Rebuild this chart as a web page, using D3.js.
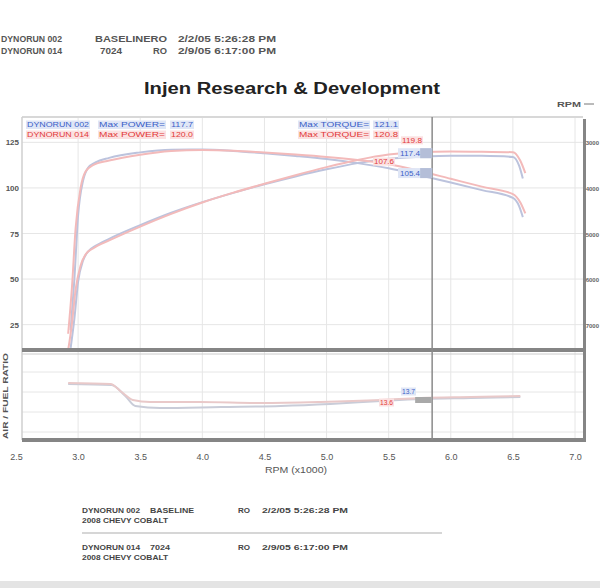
<!DOCTYPE html>
<html><head><meta charset="utf-8">
<script src="https://cdn.jsdelivr.net/npm/d3@7"></script>
<style>
body{margin:0;background:#fff;overflow:hidden}
svg{display:block;font-family:"Liberation Sans",Arial,sans-serif}
</style>
</head><body>
<svg id="c" width="600" height="588"></svg>
<script>
// ---------- data ----------
const rpmTicks = [2.5, 3.0, 3.5, 4.0, 4.5, 5.0, 5.5, 6.0, 6.5, 7.0];
const upperTicks = [25, 50, 75, 100, 125];
const rightTicks = ["7000", "6000", "5000", "4000", "3000"];
const lowerGrid = [12, 13, 14, 15];

const rpm002 = [2.94, 2.97, 3.00, 3.04, 3.08, 3.14, 3.25, 3.50, 3.75, 4.00, 4.25, 4.50, 4.75, 5.00, 5.25, 5.50, 5.75, 6.00, 6.25, 6.50, 6.55, 6.58];
const torque002 = [22, 50, 85, 104, 111, 114, 116.5, 119.5, 121.0, 121.1, 120.3, 119.0, 117.5, 115.8, 113.6, 110.8, 107.0, 103.0, 98.8, 94.5, 90, 84];
const power002 = [12.3, 28.3, 48.6, 60.2, 65.1, 68.2, 72.1, 79.6, 86.4, 92.2, 97.3, 102.0, 106.3, 110.2, 113.6, 116.0, 117.1, 117.7, 117.6, 117.0, 112.2, 105.2];

const rpm014 = [2.92, 2.95, 2.98, 3.02, 3.06, 3.12, 3.25, 3.50, 3.75, 4.00, 4.25, 4.50, 4.75, 5.00, 5.25, 5.50, 5.75, 6.00, 6.25, 6.50, 6.56, 6.60];
const torque014 = [20, 45, 78, 100, 109, 112.5, 115.0, 118.2, 120.2, 120.8, 120.4, 119.4, 118.3, 117.0, 115.3, 113.0, 109.3, 105.0, 100.7, 96.6, 92, 86];
const power014 = [11.1, 25.3, 44.3, 57.5, 63.5, 66.8, 71.2, 78.8, 85.8, 92.0, 97.4, 102.3, 107.0, 111.4, 115.3, 118.3, 119.7, 120.0, 119.8, 119.6, 114.9, 108.1];

const afrRpm002 = [2.92, 3.27, 3.38, 3.46, 3.66, 4.15, 4.63, 5.03, 5.44, 5.76, 6.16, 6.56];
const afr002 = [14.4, 14.35, 13.8, 13.3, 13.2, 13.25, 13.3, 13.4, 13.55, 13.65, 13.7, 13.75];
const afrRpm014 = [2.92, 3.26, 3.35, 3.44, 3.58, 3.98, 4.47, 4.95, 5.44, 5.76, 6.16, 6.56];
const afr014 = [14.45, 14.4, 14.0, 13.6, 13.5, 13.5, 13.45, 13.5, 13.6, 13.7, 13.75, 13.8];

const cursorRpm = 5.85;
const readoutRuns = ["014", "002", "014", "002"];
const readoutVals = [119.8, 117.4, 107.6, 105.4];
const afrReadoutRuns = ["014", "002"];
const afrReadoutVals = [13.6, 13.7];

const runNames = ["DYNORUN 002", "DYNORUN 014"];
const runMaxPower = ["117.7", "120.0"];
const runMaxTorque = ["121.1", "120.8"];
const runLabels = ["BASELINE", "7024"];
const runDates = ["2/2/05 5:26:28 PM", "2/9/05 6:17:00 PM"];
const vehicle = "2008 CHEVY COBALT";
const title = "Injen Research & Development";

// ---------- setup ----------
const svg = d3.select("#c");
const L = 22, R = 583, T = 117, MID = 350, B = 440;
const x = d3.scaleLinear().domain([2.5, 7.0]).range([16, 575]);
const yU = d3.scaleLinear().domain([10, 140]).range([352, 115]);
const yL = d3.scaleLinear().domain([11.6, 16]).range([440, 352]);
const colText = {"002": "#3b5fc8", "014": "#e23a3a"};
const colBg = {"002": "#dfe6f6", "014": "#fbe1e1"};
const colLine = {"002": "#bcc3dd", "014": "#f3baba"};

// bottom strip
svg.append("rect").attr("x", 0).attr("y", 581).attr("width", 600).attr("height", 7).attr("fill", "#e4e4e4");

// header
const hdr = svg.append("g").attr("fill", "#555").attr("font-size", 8.5).attr("font-weight", "bold");
[0, 1].forEach(i => {
  const yy = [42, 54][i];
  hdr.append("text").attr("x", 1).attr("y", yy).text(runNames[i]).attr("textLength", 61).attr("lengthAdjust", "spacingAndGlyphs");
  hdr.append("text").attr("x", i ? 100 : 95).attr("y", yy).text(i ? runLabels[i] : runLabels[i] + "RO").attr("textLength", i ? 22 : 72).attr("lengthAdjust", "spacingAndGlyphs");
  if (i) hdr.append("text").attr("x", 153).attr("y", yy).text("RO").attr("textLength", 14).attr("lengthAdjust", "spacingAndGlyphs");
  hdr.append("text").attr("x", 178).attr("y", yy).text(runDates[i]).attr("textLength", 98).attr("lengthAdjust", "spacingAndGlyphs");
});

// title
svg.append("text").attr("x", 292).attr("y", 94).attr("text-anchor", "middle")
  .attr("font-size", 16).attr("font-weight", "bold").attr("fill", "#222")
  .attr("textLength", 296).attr("lengthAdjust", "spacingAndGlyphs").text(title);

// RPM label right
svg.append("text").attr("x", 557).attr("y", 107).attr("font-size", 8).attr("font-weight", "bold").attr("fill", "#555")
  .attr("textLength", 24).attr("lengthAdjust", "spacingAndGlyphs").text("RPM");
svg.append("line").attr("x1", 584).attr("x2", 594).attr("y1", 104).attr("y2", 104).attr("stroke", "#777");

// plot background
svg.append("rect").attr("x", L).attr("y", T).attr("width", R - L).attr("height", B - T).attr("fill", "#fff");

// grid
const grid = svg.append("g").attr("stroke", "#e6e6e6").attr("stroke-width", 1);
rpmTicks.filter(d => x(d) > L + 2 && x(d) < R - 2).forEach(d => {
  grid.append("line").attr("x1", x(d)).attr("x2", x(d)).attr("y1", T).attr("y2", B);
});
upperTicks.forEach(d => grid.append("line").attr("x1", L).attr("x2", R).attr("y1", yU(d)).attr("y2", yU(d)));
lowerGrid.forEach(d => grid.append("line").attr("x1", L).attr("x2", R).attr("y1", yL(d)).attr("y2", yL(d)));

// frame
svg.append("line").attr("x1", L).attr("x2", R).attr("y1", T).attr("y2", T).attr("stroke", "#d8d8d8").attr("stroke-width", 2);
svg.append("line").attr("x1", L).attr("x2", L).attr("y1", T).attr("y2", B).attr("stroke", "#cfcfcf").attr("stroke-width", 1.5);

// clips
const defs = svg.append("defs");
defs.append("clipPath").attr("id", "cu").append("rect").attr("x", L).attr("y", T).attr("width", R - L).attr("height", MID - T);
defs.append("clipPath").attr("id", "cl").append("rect").attr("x", L).attr("y", MID + 2).attr("width", R - L).attr("height", B - MID - 2);

// curves
const lineU = (xs, ys) => d3.line().curve(d3.curveMonotoneX).x((d, i) => x(xs[i])).y(d => yU(d))(ys);
const lineL = (xs, ys) => d3.line().curve(d3.curveMonotoneX).x((d, i) => x(xs[i])).y(d => yL(d))(ys);
const gu = svg.append("g").attr("clip-path", "url(#cu)").attr("fill", "none").attr("stroke-width", 2);
gu.append("path").attr("d", lineU(rpm002, torque002)).attr("stroke", colLine["002"]);
gu.append("path").attr("d", lineU(rpm002, power002)).attr("stroke", colLine["002"]);
gu.append("path").attr("d", lineU(rpm014, torque014)).attr("stroke", colLine["014"]);
gu.append("path").attr("d", lineU(rpm014, power014)).attr("stroke", colLine["014"]);
const gl = svg.append("g").attr("clip-path", "url(#cl)").attr("fill", "none").attr("stroke-width", 2);
gl.append("path").attr("d", lineL(afrRpm002, afr002)).attr("stroke", "#c9ccd8");
gl.append("path").attr("d", lineL(afrRpm014, afr014)).attr("stroke", "#e9c9c9");

// dark borders
const dk = "#858585";
svg.append("rect").attr("x", L).attr("y", MID - 2).attr("width", R - L + 3).attr("height", 4).attr("fill", dk);
svg.append("line").attr("x1", L).attr("x2", R).attr("y1", MID + 4).attr("y2", MID + 4).attr("stroke", "#ccc");
svg.append("rect").attr("x", L).attr("y", B - 2).attr("width", R - L + 3).attr("height", 4).attr("fill", dk);
svg.append("rect").attr("x", R).attr("y", T + 2).attr("width", 3).attr("height", B - T).attr("fill", dk);

// cursor
const cx = x(cursorRpm);
svg.append("line").attr("x1", cx).attr("x2", cx).attr("y1", T).attr("y2", B).attr("stroke", "#8a8a8a").attr("stroke-width", 1.5);

// legend rows
function tag(g, txt, x0, y0, w, run, size) {
  g.append("rect").attr("x", x0 - 1).attr("y", y0 - size + 0.5).attr("width", w + 2).attr("height", size + 1.5).attr("fill", colBg[run]);
  g.append("text").attr("x", x0).attr("y", y0).attr("font-size", size).attr("fill", colText[run])
    .attr("textLength", w).attr("lengthAdjust", "spacingAndGlyphs").text(txt);
}
const lg = svg.append("g");
["002", "014"].forEach((run, i) => {
  const yy = 127 + i * 10;
  tag(lg, runNames[i], 27, yy, 62, run, 7);
  tag(lg, "Max POWER=", 99, yy, 66, run, 7);
  tag(lg, runMaxPower[i], 171, yy, 22, run, 7);
  tag(lg, "Max TORQUE=", 299, yy, 70, run, 7);
  tag(lg, runMaxTorque[i], 374, yy, 24, run, 7);
});

// cursor readouts (upper)
const rdDy = [-9, 0, -10, -2];
const rdX = [402, 400, 374, 400];
readoutVals.forEach((v, i) => {
  const run = readoutRuns[i];
  const yy = yU(v) + rdDy[i];
  if (run === "002") {
    lg.append("rect").attr("x", 398).attr("y", yy - 8).attr("width", cx - 398).attr("height", 10).attr("fill", colBg[run]);
    lg.append("rect").attr("x", cx - 12).attr("y", yy - 8).attr("width", 12).attr("height", 10).attr("fill", "#b4bed8");
  } else {
    lg.append("rect").attr("x", rdX[i] - 1).attr("y", yy - 6.5).attr("width", 22).attr("height", 8).attr("fill", colBg[run]);
  }
  lg.append("text").attr("x", rdX[i]).attr("y", yy).attr("font-size", 7).attr("fill", colText[run])
    .attr("textLength", 20).attr("lengthAdjust", "spacingAndGlyphs").text(v.toFixed(1));
});

// AFR readouts
const afrX = [380, 402];
const afrDy = [5, -4];
svg.append("rect").attr("x", cx - 17).attr("y", yL(13.7) - 1).attr("width", 17).attr("height", 6).attr("fill", "#a9a9a9");
afrReadoutVals.forEach((v, i) => {
  const run = afrReadoutRuns[i];
  const yy = yL(v) + afrDy[i];
  svg.append("rect").attr("x", afrX[i] - 1).attr("y", yy - 6.5).attr("width", 15).attr("height", 8).attr("fill", colBg[run]);
  svg.append("text").attr("x", afrX[i]).attr("y", yy).attr("font-size", 7).attr("fill", colText[run])
    .attr("textLength", 13).attr("lengthAdjust", "spacingAndGlyphs").text(v.toFixed(1));
});

// x axis
const xa = svg.append("g").attr("transform", `translate(0,${B + 8})`)
  .call(d3.axisBottom(x).tickValues(rpmTicks).tickFormat(d3.format(".1f")).tickSize(0).tickPadding(6));
xa.select(".domain").remove();
xa.selectAll("text").attr("font-size", 9).attr("fill", "#555").attr("font-family", "Liberation Sans, Arial");
svg.append("text").attr("x", 296).attr("y", 473).attr("text-anchor", "middle").attr("font-size", 8.5).attr("fill", "#555")
  .attr("textLength", 62).attr("lengthAdjust", "spacingAndGlyphs").text("RPM (x1000)");

// left axis
const ya = svg.append("g").attr("transform", "translate(19,0)")
  .call(d3.axisLeft(yU).tickValues(upperTicks).tickSize(0).tickPadding(0));
ya.select(".domain").remove();
ya.selectAll("text").attr("font-size", 8).attr("font-weight", "bold").attr("fill", "#555").attr("font-family", "Liberation Sans, Arial");

// right axis
upperTicks.forEach((d, i) => {
  svg.append("text").attr("x", 599).attr("y", yU(d) + 3).attr("text-anchor", "end").attr("font-size", 6).attr("font-weight", "bold").attr("fill", "#666").text(rightTicks[i]);
});

// lower-panel rotated label
svg.append("text").attr("transform", "translate(8,396) rotate(-90)").attr("text-anchor", "middle")
  .attr("font-size", 8).attr("font-weight", "bold").attr("fill", "#555")
  .attr("textLength", 86).attr("lengthAdjust", "spacingAndGlyphs").text("AIR / FUEL RATIO");

// bottom info block
const bt = svg.append("g").attr("fill", "#444").attr("font-size", 8).attr("font-weight", "bold");
[0, 1].forEach(i => {
  const yy = [513, 550][i];
  bt.append("text").attr("x", 82).attr("y", yy).text(runNames[i]).attr("textLength", 58).attr("lengthAdjust", "spacingAndGlyphs");
  bt.append("text").attr("x", 150).attr("y", yy).text(runLabels[i]).attr("textLength", i ? 20 : 44).attr("lengthAdjust", "spacingAndGlyphs");
  bt.append("text").attr("x", 238).attr("y", yy).text("RO").attr("textLength", 12).attr("lengthAdjust", "spacingAndGlyphs");
  bt.append("text").attr("x", 262).attr("y", yy).text(runDates[i]).attr("textLength", 86).attr("lengthAdjust", "spacingAndGlyphs");
  bt.append("text").attr("x", 82).attr("y", yy + 10).text(vehicle).attr("textLength", 86).attr("lengthAdjust", "spacingAndGlyphs");
});
svg.append("line").attr("x1", 82).attr("x2", 442).attr("y1", 533).attr("y2", 533).attr("stroke", "#d6d6d6").attr("stroke-width", 2);
</script>
</body></html>
